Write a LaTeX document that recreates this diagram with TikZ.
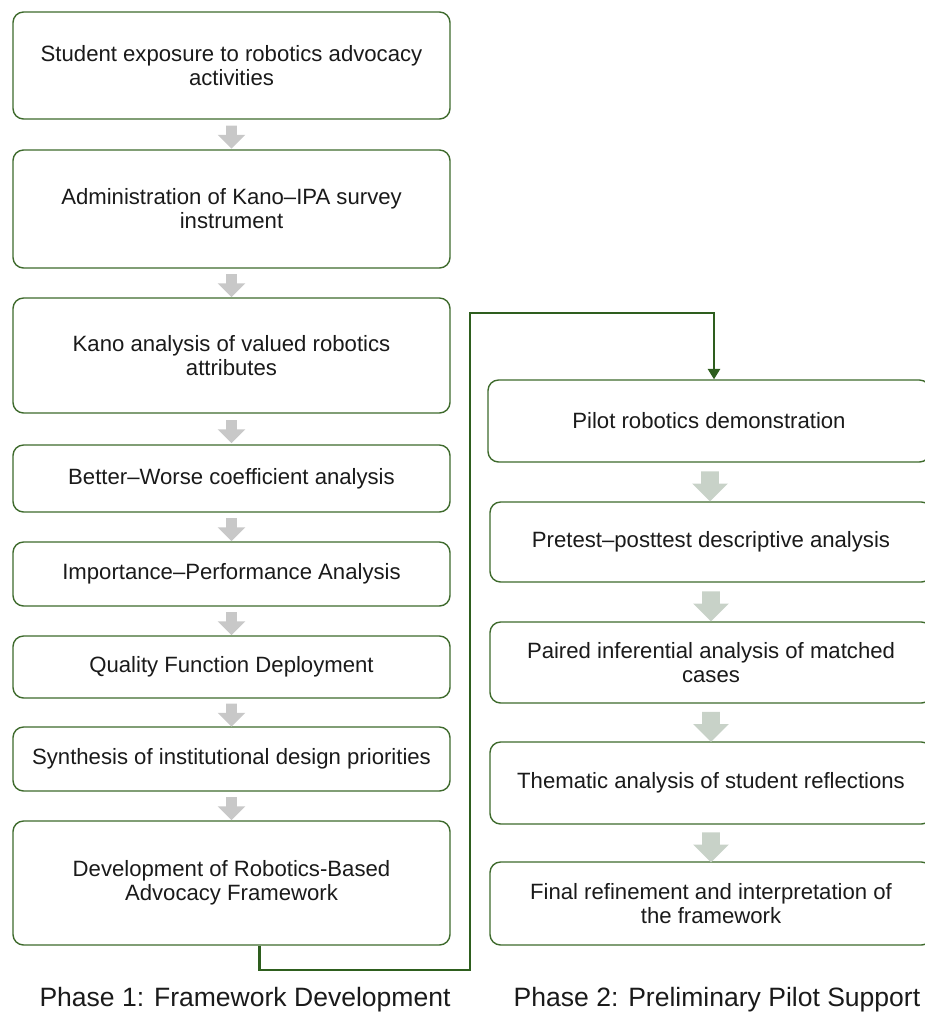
\documentclass[tikz,border=0pt]{standalone}
\usepackage{fontspec}
\setmainfont{Liberation Sans}
\usepackage{xcolor}
\usepackage{tikz}
\usetikzlibrary{shapes.arrows, arrows.meta, positioning, calc}
\definecolor{boxgreen}{RGB}{62,106,44}
\definecolor{linkgreen}{RGB}{46,94,30}
\definecolor{blockgray}{RGB}{200,200,200}
\definecolor{blocksage}{RGB}{200,210,200}
\definecolor{inktext}{RGB}{26,26,26}

\begin{document}
\begin{tikzpicture}[
  stepbox/.style={rectangle, rounded corners=6pt, draw=boxgreen, line width=0.8pt,
                  fill=white, text=inktext, align=center, inner sep=2pt,
                  font=\fontsize{12.6}{13.7}\selectfont},
  leftbox/.style={stepbox, minimum width=8.74cm},
  rightbox/.style={stepbox, minimum width=8.84cm},
  downarr/.style={single arrow, draw=none, shape border rotate=270, inner sep=0.1cm,
                  minimum height=0.46cm, single arrow head extend=0.17cm,
                  fill=blockgray},
  bigdownarr/.style={downarr, inner sep=0.17cm, minimum height=0.6cm,
                     single arrow head extend=0.18cm, fill=blocksage},
  conn/.style={-{Triangle[width=7pt, length=6pt]}, draw=linkgreen, line width=1.3pt},
  phase/.style={text=inktext, font=\fontsize{15.1}{17}\selectfont}
]
\useasboundingbox (0,0) rectangle (18.5,-20.34);
\clip (0,0) rectangle (18.5,-20.34);

%% ── Phase 1: Framework Development ─────────────────────────────────────
\node[leftbox, minimum height=2.14cm] (expose)  at (4.63, -1.31)
  {Student exposure to robotics advocacy\\activities};
\node[leftbox, minimum height=2.36cm] (survey)  at (4.63, -4.18)
  {Administration of Kano--IPA survey\\instrument};
\node[leftbox, minimum height=2.30cm] (kano)    at (4.63, -7.11)
  {Kano analysis of valued robotics\\attributes};
\node[leftbox, minimum height=1.34cm] (better)  at (4.63, -9.57)
  {Better--Worse coefficient analysis};
\node[leftbox, minimum height=1.28cm] (ipa)     at (4.63, -11.48)
  {Importance--Performance Analysis};
\node[leftbox, minimum height=1.24cm] (qfd)     at (4.63, -13.34)
  {Quality Function Deployment};
\node[leftbox, minimum height=1.28cm] (synth)   at (4.63, -15.18)
  {Synthesis of institutional design priorities};
\node[leftbox, minimum height=2.48cm] (develop) at (4.63, -17.66)
  {Development of Robotics-Based\\Advocacy Framework};

\node[downarr] (a1) at ($(expose.south)!0.5!(survey.north)$) {};
\node[downarr] (a2) at ($(survey.south)!0.5!(kano.north)$) {};
\node[downarr] (a3) at ($(kano.south)!0.5!(better.north)$) {};
\node[downarr] (a4) at ($(better.south)!0.5!(ipa.north)$) {};
\node[downarr] (a5) at ($(ipa.south)!0.5!(qfd.north)$) {};
\node[downarr] (a6) at ($(qfd.south)!0.5!(synth.north)$) {};
\node[downarr] (a7) at ($(synth.south)!0.5!(develop.north)$) {};

%% ── Phase 2: Preliminary Pilot Support ─────────────────────────────────
\node[rightbox, minimum height=1.64cm] (pilot)    at (14.18, -8.42)
  {Pilot robotics demonstration};
\node[rightbox, minimum height=1.60cm] (pretest)  at (14.22, -10.84)
  {Pretest--posttest descriptive analysis};
\node[rightbox, minimum height=1.62cm] (paired)   at (14.22, -13.25)
  {Paired inferential analysis of matched\\cases};
\node[rightbox, minimum height=1.64cm] (thematic) at (14.22, -15.66)
  {Thematic analysis of student reflections};
\node[rightbox, minimum height=1.66cm] (refine)   at (14.22, -18.07)
  {Final refinement and interpretation of\\the framework};

\node[bigdownarr] (b1) at ($(pilot.south)!0.5!(pretest.north)$) {};
\node[bigdownarr] (b2) at ($(pretest.south)!0.5!(paired.north)$) {};
\node[bigdownarr] (b3) at ($(paired.south)!0.5!(thematic.north)$) {};
\node[bigdownarr] (b4) at ($(thematic.south)!0.5!(refine.north)$) {};

%% ── Link between the phases ────────────────────────────────────────────
\coordinate (lowturn)  at (9.4, -19.4);
\coordinate (highturn) at (9.4, -6.26);
\draw[conn] ($(develop.south)+(0.56,0)$) |- (lowturn) -- (highturn)
  -| ($(pilot.north)+(0.1,0)$);

%% ── Phase captions ─────────────────────────────────────────────────────
\node[phase] (cap1) at (4.9, -20.0)   {Phase 1: Framework Development};
\node[phase] (cap2) at (14.34, -20.0) {Phase 2: Preliminary Pilot Support};

\end{tikzpicture}
\end{document}
